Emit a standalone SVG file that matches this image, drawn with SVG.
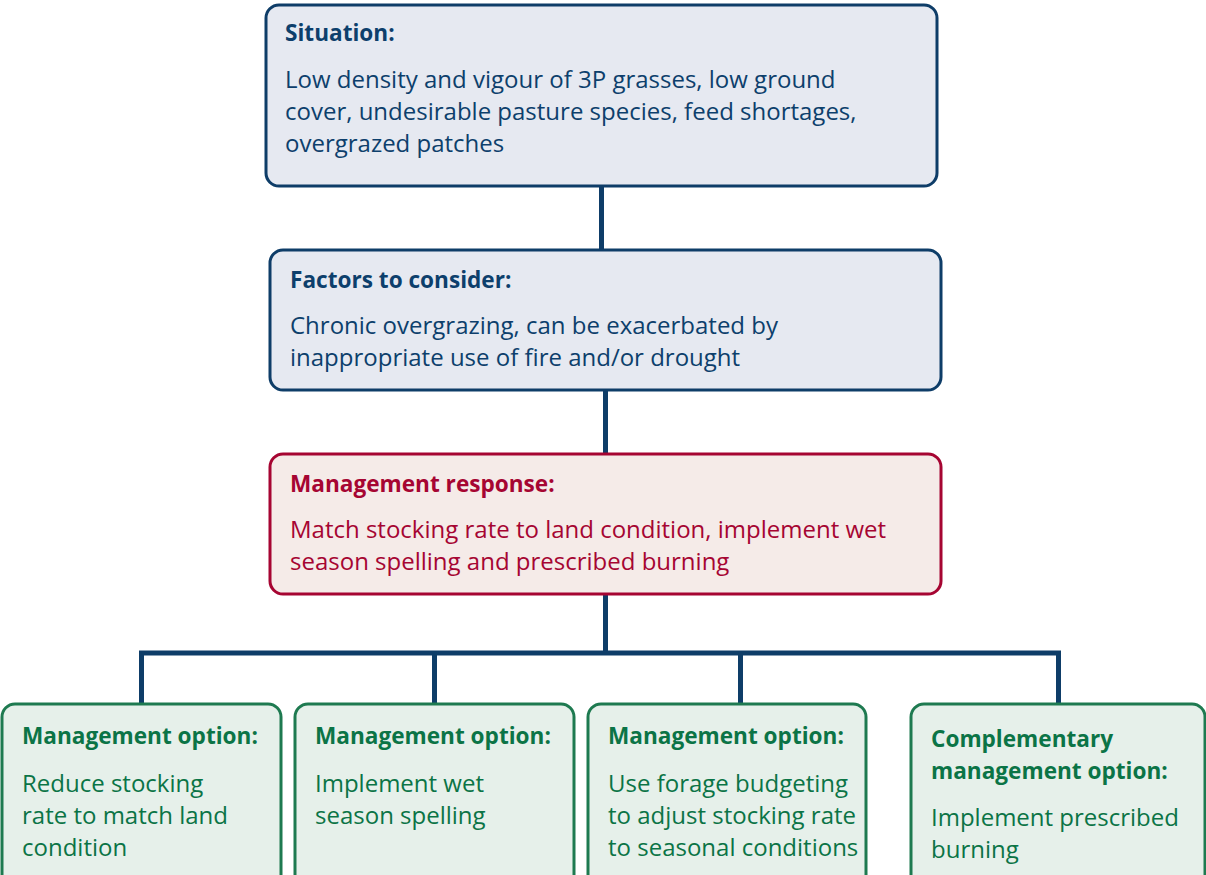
<svg xmlns="http://www.w3.org/2000/svg" width="1206" height="875" viewBox="0 0 1206 875">
<style>
text{font-family:"Open Sans","Noto Sans","Liberation Sans",sans-serif;font-size:24px}
.t{font-weight:bold;font-size:22.6px}
.blue rect{fill:#e6e9f1;stroke:#0e3d68;stroke-width:3}
.blue text{fill:#0d3f6c}
.red rect{fill:#f5ebe8;stroke:#a60532;stroke-width:3}
.red text{fill:#a60532}
.green rect{fill:#e6f0ea;stroke:#1e7a50;stroke-width:3}
.green text{fill:#0b7446}
.conn{stroke:#0e3d68;stroke-width:5;fill:none}
</style>
<g id="connectors">
<line class="conn" x1="601.5" y1="186" x2="601.5" y2="250"/>
<line class="conn" x1="605.5" y1="390" x2="605.5" y2="454"/>
<line class="conn" x1="605.5" y1="594" x2="605.5" y2="653"/>
<polyline class="conn" points="141.5,704 141.5,653 1058.5,653 1058.5,704"/>
<line class="conn" x1="434.5" y1="653" x2="434.5" y2="704"/>
<line class="conn" x1="740.5" y1="653" x2="740.5" y2="704"/>
</g>
<g id="situation" class="blue">
<rect x="266" y="5" width="671" height="181" rx="13"/>
<text class="t" x="285" y="41">Situation:</text>
<text x="285" y="88">Low density and vigour of 3P grasses, low ground</text>
<text x="285" y="120">cover, undesirable pasture species, feed shortages,</text>
<text x="285" y="152">overgrazed patches</text>
</g>
<g id="factors" class="blue">
<rect x="270" y="250" width="671" height="140" rx="13"/>
<text class="t" x="290" y="288">Factors to consider:</text>
<text x="290" y="334">Chronic overgrazing, can be exacerbated by</text>
<text x="290" y="366">inappropriate use of fire and/or drought</text>
</g>
<g id="response" class="red">
<rect x="270" y="454" width="671" height="140" rx="13"/>
<text class="t" x="290" y="492">Management response:</text>
<text x="290" y="538">Match stocking rate to land condition, implement wet</text>
<text x="290" y="570">season spelling and prescribed burning</text>
</g>
<g id="option1" class="green">
<rect x="2" y="704" width="279" height="185" rx="13"/>
<text class="t" x="22" y="744">Management option:</text>
<text x="22" y="792">Reduce stocking</text>
<text x="22" y="824">rate to match land</text>
<text x="22" y="856">condition</text>
</g>
<g id="option2" class="green">
<rect x="295" y="704" width="279" height="185" rx="13"/>
<text class="t" x="315" y="744">Management option:</text>
<text x="315" y="792">Implement wet</text>
<text x="315" y="824">season spelling</text>
</g>
<g id="option3" class="green">
<rect x="588" y="704" width="278" height="185" rx="13"/>
<text class="t" x="608" y="744">Management option:</text>
<text x="608" y="792">Use forage budgeting</text>
<text x="608" y="824">to adjust stocking rate</text>
<text x="608" y="856">to seasonal conditions</text>
</g>
<g id="option4" class="green">
<rect x="911" y="704" width="294" height="185" rx="13"/>
<text class="t" x="931" y="747">Complementary</text>
<text class="t" x="931" y="779">management option:</text>
<text x="931" y="826">Implement prescribed</text>
<text x="931" y="858">burning</text>
</g>
</svg>
